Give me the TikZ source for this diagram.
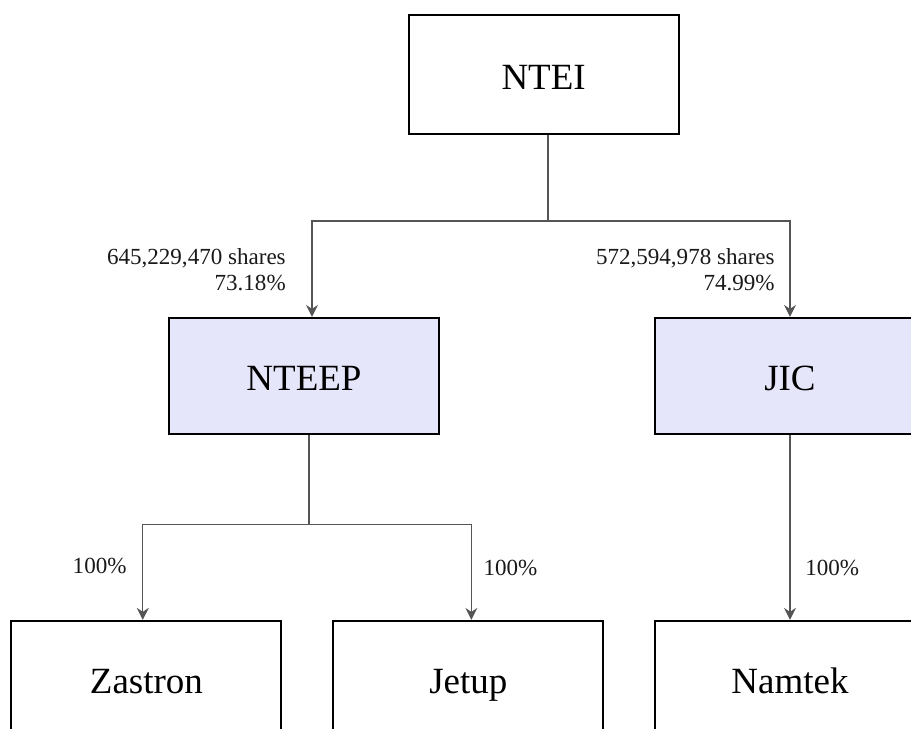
\documentclass[tikz,border=0pt]{standalone}
\usepackage{fontspec}
\setmainfont{Liberation Serif}
\usepackage{xcolor}
\usetikzlibrary{arrows.meta,positioning}

\definecolor{subfill}{RGB}{230,230,250}
\definecolor{linkgray}{RGB}{85,85,85}

\begin{document}
\begin{tikzpicture}[
    node distance=1cm,
    company/.style={rectangle, draw=black, line width=1.4pt, minimum width=6.75cm, minimum height=2.9cm, text height=0.95cm, text depth=0.2cm, align=center, font=\fontsize{26.3}{31}\selectfont},
    subsidiary/.style={company, fill=subfill},
    link/.style={draw=linkgray, line width=0.9pt, -{Stealth[length=0.3cm, width=0.3cm, inset=0.1cm]}},
    share/.style={inner sep=0pt, text=black!90, font=\fontsize{16.4}{18.5}\selectfont}
]
\useasboundingbox (0,0) rectangle (22.775,-18.2);

% Parent
\node[company, minimum height=2.975cm] (ntei) at (13.59,-1.86) {NTEI};

% Direct subsidiaries
\node[subsidiary, below=4.55cm of ntei, xshift=-5.99cm] (nteep) {NTEEP};
\node[subsidiary, right=5.35cm of nteep] (jic) {JIC};

% Wholly owned companies
\node[company, below=4.625cm of nteep, xshift=-3.94cm] (zastron) {Zastron};
\node[company, right=1.25cm of zastron] (jetup) {Jetup};
\node[company, below=4.625cm of jic] (namtek) {Namtek};

% Ownership lines
\draw[link] ([xshift=0.11cm]ntei.south) -- ++(0,-2.15) -| ([xshift=0.2cm]nteep.north);
\draw[link] ([xshift=0.11cm]ntei.south) -- ++(0,-2.15) -| (jic.north);
\draw[link] ([xshift=0.125cm]nteep.south) -- ++(0,-2.25) -| ([xshift=-0.09cm]zastron.north);
\draw[link] ([xshift=0.125cm]nteep.south) -- ++(0,-2.25) -| ([xshift=0.075cm]jetup.north);
\draw[link] (jic.south) -- (namtek.north);

% Holdings
\node[share, align=right, anchor=south east] (nteepshare) at ([xshift=-0.45cm, yshift=0.65cm]nteep.north) {645,229,470 shares\\73.18\%};
\node[share, align=right, anchor=south east] (jicshare) at ([xshift=-0.375cm, yshift=0.65cm]jic.north) {572,594,978 shares\\74.99\%};
\node[share, anchor=east] (zastronshare) at ([xshift=-0.49cm, yshift=1.35cm]zastron.north) {100\%};
\node[share, anchor=west] (jetupshare) at ([xshift=0.375cm, yshift=1.3cm]jetup.north) {100\%};
\node[share, anchor=west] (namtekshare) at ([xshift=0.375cm, yshift=1.3cm]namtek.north) {100\%};

\end{tikzpicture}
\end{document}
